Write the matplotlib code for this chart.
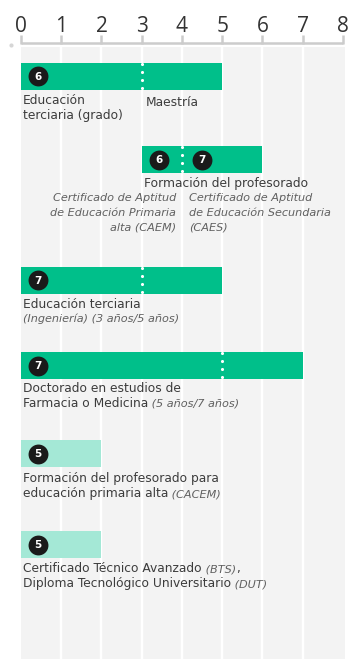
import matplotlib
matplotlib.use("Agg")
import matplotlib.pyplot as plt
import numpy as np

# ---------------- data ----------------
tick_values = [0, 1, 2, 3, 4, 5, 6, 7, 8]
bar_start = [0, 3, 0, 0, 0, 0]
bar_end = [5, 6, 5, 7, 2, 2]
bar_divider = [3, 4, 3, 5, None, None]
bar_badges = [[6], [6, 7], [7], [7], [5], [5]]
bar_kind = ["main", "main", "main", "main", "short", "short"]

# labels: list of lines, each line a list of (text, style) segments
label_main = [
    [[("Educación", "b")], [("terciaria (grado)", "b")]],
    [[("Formación del profesorado", "b")]],
    [[("Educación terciaria", "b")], [("(Ingeniería) (3 años/5 años)", "i")]],
    [[("Doctorado en estudios de", "b")],
     [("Farmacia o Medicina", "b"), (" (5 años/7 años)", "i")]],
    [[("Formación del profesorado para", "b")],
     [("educación primaria alta", "b"), (" (CACEM)", "i")]],
    [[("Certificado Técnico Avanzado", "b"), (" (BTS)", "i"), (",", "b")],
     [("Diploma Tecnológico Universitario", "b"), (" (DUT)", "i")]],
]
label_divider = ["Maestría", None, None, None, None, None]
label_left_italic = [None, ["Certificado de Aptitud", "de Educación Primaria", "alta (CAEM)"],
                     None, None, None, None]
label_right_italic = [None, ["Certificado de Aptitud", "de Educación Secundaria", "(CAES)"],
                      None, None, None, None]

# ---------------- layout (pixels) ----------------
W, H = 350, 659
X0_PX, UNIT_PX = 21, 40.25
bar_top = [62.7, 146, 266.7, 352.3, 440, 531]
BAR_H = 27
label_first_baseline = [104, 186.5, 307.7, 392, 482.3, 572.3]
LINE_GAP = 14.8

colors = {"main": "#00BF8A", "short": "#A4E8D6"}
TXT = "#3c3c3c"
ITXT = "#606060"
FONT = ["DejaVu Sans"]
TICKFONT = ["Open Sans", "DejaVu Sans"]

fig = plt.figure(figsize=(W / 100, H / 100), dpi=100)
ax = fig.add_axes([0, 0, 1, 1])
ax.set_xlim(-X0_PX / UNIT_PX, (W - X0_PX) / UNIT_PX)
ax.set_ylim(H, 0)
ax.axis("off")
renderer = fig.canvas.get_renderer()

# background columns
ax.add_patch(plt.Rectangle((0, 46.5), 8.05, H, color="#F3F3F3", lw=0, zorder=0))
for v in tick_values[1:-1]:
    ax.plot([v, v], [46.5, H], color="white", lw=1.7, zorder=1, solid_capstyle="butt")

# axis with ticks
ax.plot([0, 8], [43, 43], color="#cccccc", lw=1.8, zorder=2, solid_capstyle="butt")
for v in tick_values:
    ax.plot([v, v], [35, 43.9], color="#cccccc", lw=1.8, zorder=2, solid_capstyle="butt")
    ax.text(v, 32, str(v), ha="center", va="baseline", fontsize=15, color="#333333",
            family=TICKFONT, fontweight="normal")
ax.scatter([-10 / UNIT_PX], [45], s=9, color="#d6d6d6", lw=0, zorder=2)

def draw_line(x, y, segs, ha="left"):
    for text, style in segs:
        if style == "i":
            kw = dict(fontsize=8.1, style="italic", color=ITXT)
        else:
            kw = dict(fontsize=8.8, color=TXT)
        kw.update(family=FONT, zorder=5)
        t = ax.text(x, y, text, ha=ha, va="baseline", **kw)
        bb = t.get_window_extent(renderer=renderer)
        x = ax.transData.inverted().transform((bb.x1, 0))[0]

for i in range(len(bar_start)):
    top = bar_top[i]
    ax.barh(top + BAR_H / 2, bar_end[i] - bar_start[i], left=bar_start[i], height=BAR_H,
            color=colors[bar_kind[i]], lw=0, zorder=3)
    if bar_divider[i] is not None:
        ys = np.arange(top + 1, top + BAR_H, 8)
        ax.scatter([bar_divider[i]] * len(ys), ys, s=5, color="white", lw=0, zorder=4)
    # badges
    bx = [bar_start[i] + 17 / UNIT_PX]
    if len(bar_badges[i]) > 1:
        bx.append(bar_divider[i] + 20 / UNIT_PX)
    for x, b in zip(bx, bar_badges[i]):
        ax.scatter([x], [top + BAR_H / 2], s=205, color="#1a1a1a", lw=0, zorder=5)
        ax.text(x, top + BAR_H / 2 + 0.5, str(b), ha="center", va="center", color="white",
                fontsize=7.5, fontweight="bold", family=FONT, zorder=6)
    # labels
    base = label_first_baseline[i]
    lx = bar_start[i] + 2 / UNIT_PX
    for k, line in enumerate(label_main[i]):
        draw_line(lx, base + k * LINE_GAP, line)
    if label_divider[i]:
        draw_line(bar_divider[i] + 4 / UNIT_PX, base + 2, [(label_divider[i], "b")])
    if label_left_italic[i]:
        for k, t in enumerate(label_left_italic[i]):
            draw_line(bar_divider[i] - 6 / UNIT_PX, base + LINE_GAP * (k + 1), [(t, "i")], ha="right")
    if label_right_italic[i]:
        for k, t in enumerate(label_right_italic[i]):
            draw_line(bar_divider[i] + 7 / UNIT_PX, base + LINE_GAP * (k + 1), [(t, "i")])

fig.savefig("out.png", dpi=100)
